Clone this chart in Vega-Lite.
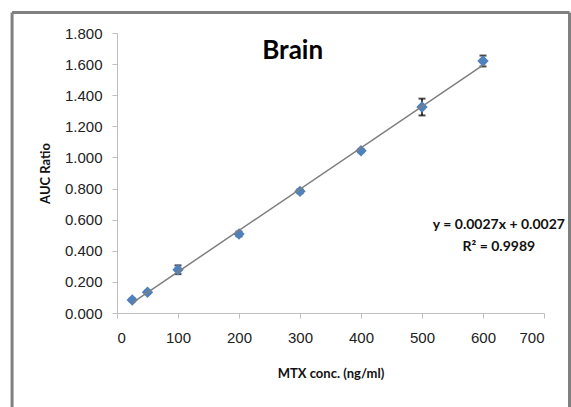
{
  "$schema": "https://vega.github.io/schema/vega-lite/v6.json",
  "width": 427,
  "height": 280,
  "autosize": "none",
  "padding": {"left": 117, "top": 33, "right": 27, "bottom": 94},
  "background": "white",
  "config": {
    "view": {"stroke": null},
    "axis": {
      "grid": false, "labelOverlap": false, "domainColor": "#bfbfbf", "tickColor": "#bfbfbf", "tickSize": 5,
      "labelFont": "Liberation Sans", "labelFontSize": 15, "labelColor": "#222222",
      "titleFont": "Lato", "titleFontSize": 13, "titleFontWeight": "bold", "titleColor": "#111111"
    },
    "axisX": {"labelPadding": 12, "titlePadding": 22},
    "axisY": {"labelPadding": 10, "titlePadding": 12}
  },
  "datasets": {
    "pts": [
      {"conc": 25, "auc": 0.084, "lo": 0.076, "hi": 0.092},
      {"conc": 50, "auc": 0.133, "lo": 0.123, "hi": 0.143},
      {"conc": 100, "auc": 0.278, "lo": 0.250, "hi": 0.306},
      {"conc": 200, "auc": 0.508, "lo": 0.493, "hi": 0.523},
      {"conc": 300, "auc": 0.782, "lo": 0.770, "hi": 0.794},
      {"conc": 400, "auc": 1.043, "lo": 1.033, "hi": 1.053},
      {"conc": 500, "auc": 1.324, "lo": 1.270, "hi": 1.378},
      {"conc": 600, "auc": 1.620, "lo": 1.585, "hi": 1.655}
    ],
    "labels": [
      {"conc": 288, "auc": 1.632, "text": "Brain", "kind": "title"},
      {"conc": 626, "auc": 0.566, "text": "y = 0.0027x + 0.0027", "kind": "eq"},
      {"conc": 626, "auc": 0.424, "text": "R² = 0.9989", "kind": "eq"}
    ]
  },
  "layer": [
    {
      "data": {"values": [{"a": 1}]},
      "mark": {"type": "rule", "color": "#808080", "strokeWidth": 3, "clip": false},
      "encoding": {
        "x": {"datum": -172, "type": "quantitative", "scale": {"domain": [0, 700], "nice": false}, "axis": {"title": "MTX conc. (ng/ml)", "values": [0, 100, 200, 300, 400, 500, 600, 700], "format": "d"}},
        "y": {"datum": 1.932, "type": "quantitative", "scale": {"domain": [0, 1.8], "nice": false}, "axis": {"title": "AUC Ratio", "values": [0, 0.2, 0.4, 0.6, 0.8, 1.0, 1.2, 1.4, 1.6, 1.8], "format": ".3f"}},
        "y2": {"datum": -1}
      }
    },
    {
      "data": {"values": [{"a": 1}]},
      "mark": {"type": "rule", "color": "#808080", "strokeWidth": 3, "clip": false},
      "encoding": {
        "x": {"datum": 741.8, "type": "quantitative", "scale": {"domain": [0, 700], "nice": false}, "axis": {"title": "MTX conc. (ng/ml)", "values": [0, 100, 200, 300, 400, 500, 600, 700], "format": "d"}},
        "y": {"datum": 1.932, "type": "quantitative", "scale": {"domain": [0, 1.8], "nice": false}, "axis": {"title": "AUC Ratio", "values": [0, 0.2, 0.4, 0.6, 0.8, 1.0, 1.2, 1.4, 1.6, 1.8], "format": ".3f"}},
        "y2": {"datum": -1}
      }
    },
    {
      "data": {"values": [{"a": 1}]},
      "mark": {"type": "rule", "color": "#808080", "strokeWidth": 3, "clip": false},
      "encoding": {
        "x": {"datum": -172, "type": "quantitative", "scale": {"domain": [0, 700], "nice": false}, "axis": {"title": "MTX conc. (ng/ml)", "values": [0, 100, 200, 300, 400, 500, 600, 700], "format": "d"}},
        "x2": {"datum": 741.8},
        "y": {"datum": 1.932, "type": "quantitative", "scale": {"domain": [0, 1.8], "nice": false}, "axis": {"title": "AUC Ratio", "values": [0, 0.2, 0.4, 0.6, 0.8, 1.0, 1.2, 1.4, 1.6, 1.8], "format": ".3f"}}
      }
    },
    {
      "data": {"name": "pts"},
      "mark": {"type": "rule", "color": "#000000", "strokeWidth": 1.5},
      "encoding": {
        "x": {"field": "conc", "type": "quantitative", "scale": {"domain": [0, 700], "nice": false}, "axis": {"title": "MTX conc. (ng/ml)", "values": [0, 100, 200, 300, 400, 500, 600, 700], "format": "d"}},
        "y": {"field": "lo", "type": "quantitative", "scale": {"domain": [0, 1.8], "nice": false}, "axis": {"title": "AUC Ratio", "values": [0, 0.2, 0.4, 0.6, 0.8, 1.0, 1.2, 1.4, 1.6, 1.8], "format": ".3f"}},
        "y2": {"field": "hi"}
      }
    },
    {
      "data": {"name": "pts"},
      "mark": {"type": "tick", "orient": "horizontal", "color": "#000000", "size": 7, "thickness": 2},
      "encoding": {
        "x": {"field": "conc", "type": "quantitative", "scale": {"domain": [0, 700], "nice": false}, "axis": {"title": "MTX conc. (ng/ml)", "values": [0, 100, 200, 300, 400, 500, 600, 700], "format": "d"}},
        "y": {"field": "lo", "type": "quantitative", "scale": {"domain": [0, 1.8], "nice": false}, "axis": {"title": "AUC Ratio", "values": [0, 0.2, 0.4, 0.6, 0.8, 1.0, 1.2, 1.4, 1.6, 1.8], "format": ".3f"}}
      }
    },
    {
      "data": {"name": "pts"},
      "mark": {"type": "tick", "orient": "horizontal", "color": "#000000", "size": 7, "thickness": 2},
      "encoding": {
        "x": {"field": "conc", "type": "quantitative", "scale": {"domain": [0, 700], "nice": false}, "axis": {"title": "MTX conc. (ng/ml)", "values": [0, 100, 200, 300, 400, 500, 600, 700], "format": "d"}},
        "y": {"field": "hi", "type": "quantitative", "scale": {"domain": [0, 1.8], "nice": false}, "axis": {"title": "AUC Ratio", "values": [0, 0.2, 0.4, 0.6, 0.8, 1.0, 1.2, 1.4, 1.6, 1.8], "format": ".3f"}}
      }
    },
    {
      "data": {"name": "pts"},
      "mark": {"type": "point", "shape": "diamond", "filled": true, "size": 130, "color": "#4f81bd", "opacity": 1},
      "encoding": {
        "x": {"field": "conc", "type": "quantitative", "scale": {"domain": [0, 700], "nice": false}, "axis": {"title": "MTX conc. (ng/ml)", "values": [0, 100, 200, 300, 400, 500, 600, 700], "format": "d"}},
        "y": {"field": "auc", "type": "quantitative", "scale": {"domain": [0, 1.8], "nice": false}, "axis": {"title": "AUC Ratio", "values": [0, 0.2, 0.4, 0.6, 0.8, 1.0, 1.2, 1.4, 1.6, 1.8], "format": ".3f"}}
      }
    },
    {
      "data": {"name": "pts"},
      "transform": [{"regression": "auc", "on": "conc", "extent": [25, 600]}],
      "mark": {"type": "line", "color": "#7f7f7f", "strokeWidth": 1.5},
      "encoding": {
        "x": {"field": "conc", "type": "quantitative", "scale": {"domain": [0, 700], "nice": false}, "axis": {"title": "MTX conc. (ng/ml)", "values": [0, 100, 200, 300, 400, 500, 600, 700], "format": "d"}},
        "y": {"field": "auc", "type": "quantitative", "scale": {"domain": [0, 1.8], "nice": false}, "axis": {"title": "AUC Ratio", "values": [0, 0.2, 0.4, 0.6, 0.8, 1.0, 1.2, 1.4, 1.6, 1.8], "format": ".3f"}}
      }
    },
    {
      "data": {"name": "labels"},
      "transform": [{"filter": "datum.kind == 'title'"}],
      "mark": {"type": "text", "font": "Lato", "fontWeight": "bold", "fontSize": 26, "align": "center", "baseline": "alphabetic", "color": "#000000"},
      "encoding": {
        "x": {"field": "conc", "type": "quantitative", "scale": {"domain": [0, 700], "nice": false}, "axis": {"title": "MTX conc. (ng/ml)", "values": [0, 100, 200, 300, 400, 500, 600, 700], "format": "d"}},
        "y": {"field": "auc", "type": "quantitative", "scale": {"domain": [0, 1.8], "nice": false}, "axis": {"title": "AUC Ratio", "values": [0, 0.2, 0.4, 0.6, 0.8, 1.0, 1.2, 1.4, 1.6, 1.8], "format": ".3f"}},
        "text": {"field": "text"}
      }
    },
    {
      "data": {"name": "labels"},
      "transform": [{"filter": "datum.kind == 'eq'"}],
      "mark": {"type": "text", "font": "Lato", "fontWeight": "bold", "fontSize": 14, "align": "center", "baseline": "middle", "color": "#111111"},
      "encoding": {
        "x": {"field": "conc", "type": "quantitative", "scale": {"domain": [0, 700], "nice": false}, "axis": {"title": "MTX conc. (ng/ml)", "values": [0, 100, 200, 300, 400, 500, 600, 700], "format": "d"}},
        "y": {"field": "auc", "type": "quantitative", "scale": {"domain": [0, 1.8], "nice": false}, "axis": {"title": "AUC Ratio", "values": [0, 0.2, 0.4, 0.6, 0.8, 1.0, 1.2, 1.4, 1.6, 1.8], "format": ".3f"}},
        "text": {"field": "text"}
      }
    }
  ]
}
